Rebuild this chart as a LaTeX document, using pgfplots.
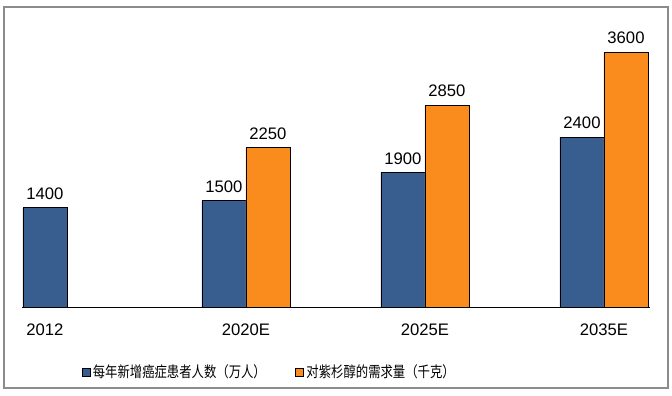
\documentclass[border=0pt]{standalone}
\usepackage{pgfplots}
\pgfplotsset{compat=1.18}
\usepackage{fontspec}
\setmainfont{Liberation Sans}
\newfontfamily\cjk[FakeStretch=0.82]{Noto Sans CJK SC}
\definecolor{cblue}{RGB}{55,94,143}
\definecolor{corange}{RGB}{250,139,29}
\begin{document}
\begin{tikzpicture}[x=1pt,y=1pt]
\useasboundingbox (0,0) rectangle (504,297);
\draw[gray!90, line width=0.8pt] (3,6) rectangle (501,291.75);
\begin{axis}[
  at={(16.5pt,66.75pt)}, anchor=south west,
  scale only axis, width=471pt, height=212.4pt,
  xmin=-0.251, xmax=3.257, ymin=0, ymax=4000,
  axis y line=none, axis x line*=bottom,
  axis line style={-, line width=0.6pt},
  xtick={-0.123,1,2,3},
  xticklabels={2012,2020E,2025E,2035E},
  major tick length=0pt,
  xticklabel style={font=\fontsize{12.5}{14}\selectfont, yshift=-9pt},
  ybar=0pt, bar width=33pt,
  clip=false,
  nodes near coords,
  nodes near coords style={font=\fontsize{12.5}{14}\selectfont, yshift=2.5pt,
    /pgf/number format/assume math mode=true, /pgf/number format/1000 sep={}},
  legend style={at={(0.088,-0.23)}, anchor=west, draw=none, fill=none,
    legend columns=2, font=\cjk\fontsize{11.3}{13}\selectfont,
    /tikz/every even column/.append style={column sep=20pt}},
  legend image code/.code={\draw[#1, line width=0.5pt] (0pt,-3pt) rectangle (6pt,3pt);},
]
\addplot[fill=cblue, draw=black, line width=0.6pt] coordinates {(0,1400) (1,1500) (2,1900) (3,2400)};
\addplot[fill=corange, draw=black, line width=0.6pt] coordinates {(1,2250) (2,2850) (3,3600)};
\legend{每年新增癌症患者人数（万人）, 对紫杉醇的需求量（千克）}
\end{axis}
\end{tikzpicture}
\end{document}
